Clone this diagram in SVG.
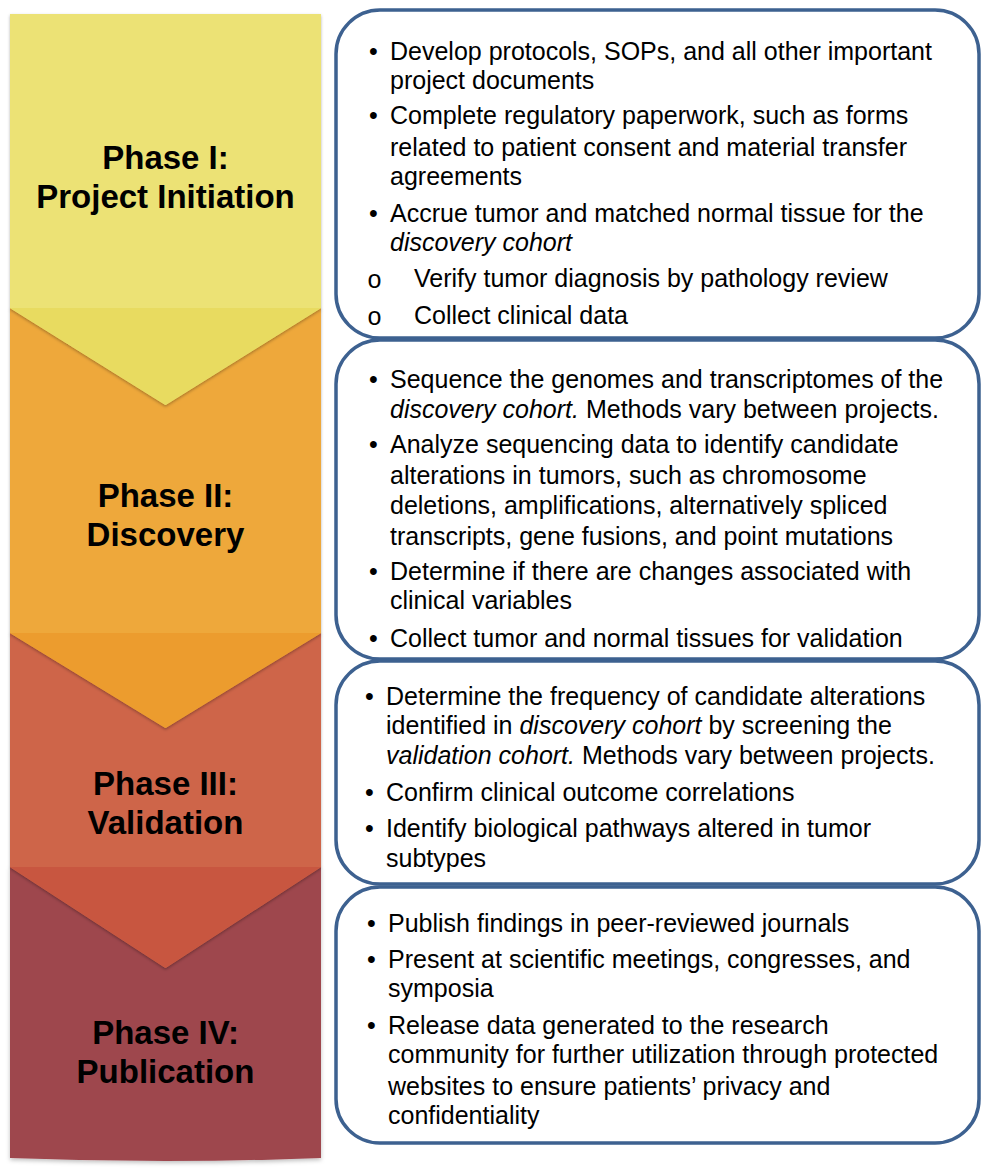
<svg xmlns="http://www.w3.org/2000/svg" width="994" height="1176" viewBox="0 0 994 1176">
  <defs>
    <filter id="chevShadow" x="-10%" y="-10%" width="120%" height="130%">
      <feDropShadow dx="0" dy="1.5" stdDeviation="1.5" flood-color="#000" flood-opacity="0.3"/>
    </filter>
    <filter id="colShadow" x="-5%" y="-5%" width="110%" height="110%">
      <feDropShadow dx="0" dy="2" stdDeviation="2" flood-color="#000" flood-opacity="0.25"/>
    </filter>
  </defs>
  <style>
    .phase { font-family: "Liberation Sans", Arial, sans-serif; font-weight: bold; font-size: 33px; fill: #000; text-anchor: middle; }
    .box { fill: #fff; stroke: #3D6190; stroke-width: 3.5; }
    .txt { font-family: "Liberation Sans", Arial, sans-serif; font-size: 25px; fill: #000; }
    .it { font-style: italic; }
    .sub { font-family: "Liberation Mono", "Courier New", monospace; font-size: 25px; }
  </style>
  <rect width="994" height="1176" fill="#fff"/>

  <!-- Phase column: drawn bottom-up so each chevron overlaps the next phase -->
  <g id="phase4">
    <path d="M10,867 L321,867 L321,1158 Q165.5,1164 10,1158 Z" fill="#9E474E" filter="url(#colShadow)"/>
    <text class="phase" x="165.5" y="1044">Phase IV:</text>
    <text class="phase" x="165.5" y="1083">Publication</text>
  </g>
  <g id="phase3">
    <g filter="url(#chevShadow)">
      <path d="M10,633 L321,633 L321,867 L165.5,968 L10,867 Z" fill="#CE654A"/>
      <path d="M10,867 L321,867 L165.5,968 Z" fill="#C8573F"/>
    </g>
    <text class="phase" x="165.5" y="795">Phase III:</text>
    <text class="phase" x="165.5" y="834">Validation</text>
  </g>
  <g id="phase2">
    <g filter="url(#chevShadow)">
      <path d="M10,308 L321,308 L321,633 L165.5,728 L10,633 Z" fill="#EEA83A"/>
      <path d="M10,633 L321,633 L165.5,728 Z" fill="#EC9C2E"/>
    </g>
    <text class="phase" x="165.5" y="507">Phase II:</text>
    <text class="phase" x="165.5" y="546">Discovery</text>
  </g>
  <g id="phase1">
    <g filter="url(#chevShadow)">
      <path d="M10,14 L321,14 L321,308 L165.5,405 L10,308 Z" fill="#ECE275"/>
      <path d="M10,308 L321,308 L165.5,405 Z" fill="#E8DB61"/>
    </g>
    <text class="phase" x="165.5" y="169">Phase I:</text>
    <text class="phase" x="165.5" y="208">Project Initiation</text>
  </g>

  <!-- Task boxes -->
  <g id="box1">
    <rect class="box" x="336" y="10" width="643" height="328" rx="44"/>
    <g class="txt">
      <text x="369" y="60">•</text>
      <text x="390" y="60">Develop protocols, SOPs, and all other important</text>
      <text x="390" y="89">project documents</text>
      <text x="369" y="124">•</text>
      <text x="390" y="124">Complete regulatory paperwork, such as forms</text>
      <text x="390" y="156">related to patient consent and material transfer</text>
      <text x="390" y="185">agreements</text>
      <text x="369" y="222">•</text>
      <text x="390" y="222">Accrue tumor and matched normal tissue for the</text>
      <text x="390" y="251" class="it">discovery cohort</text>
      <text x="367" y="288" class="sub">o</text>
      <text x="414" y="287">Verify tumor diagnosis by pathology review</text>
      <text x="367" y="325" class="sub">o</text>
      <text x="414" y="324">Collect clinical data</text>
    </g>
  </g>
  <g id="box2">
    <rect class="box" x="336" y="340" width="643" height="319" rx="44"/>
    <g class="txt">
      <text x="369" y="388">•</text>
      <text x="390" y="388">Sequence the genomes and transcriptomes of the</text>
      <text x="390" y="418"><tspan class="it">discovery cohort.</tspan> Methods vary between projects.</text>
      <text x="369" y="453">•</text>
      <text x="390" y="453">Analyze sequencing data to identify candidate</text>
      <text x="390" y="484">alterations in tumors, such as chromosome</text>
      <text x="390" y="514">deletions, amplifications, alternatively spliced</text>
      <text x="390" y="545">transcripts, gene fusions, and point mutations</text>
      <text x="369" y="580">•</text>
      <text x="390" y="580">Determine if there are changes associated with</text>
      <text x="390" y="609">clinical variables</text>
      <text x="369" y="647">•</text>
      <text x="390" y="647">Collect tumor and normal tissues for validation</text>
    </g>
  </g>
  <g id="box3">
    <rect class="box" x="336" y="661" width="643" height="223" rx="44"/>
    <g class="txt">
      <text x="365" y="705">•</text>
      <text x="386" y="705">Determine the frequency of candidate alterations</text>
      <text x="386" y="734">identified in <tspan class="it">discovery cohort</tspan> by screening the</text>
      <text x="386" y="764"><tspan class="it">validation cohort.</tspan> Methods vary between projects.</text>
      <text x="365" y="801">•</text>
      <text x="386" y="801">Confirm clinical outcome correlations</text>
      <text x="365" y="837">•</text>
      <text x="386" y="837">Identify biological pathways altered in tumor</text>
      <text x="386" y="867">subtypes</text>
    </g>
  </g>
  <g id="box4">
    <rect class="box" x="336" y="887" width="643" height="256" rx="44"/>
    <g class="txt">
      <text x="367" y="932">•</text>
      <text x="388" y="932">Publish findings in peer-reviewed journals</text>
      <text x="367" y="968">•</text>
      <text x="388" y="968">Present at scientific meetings, congresses, and</text>
      <text x="388" y="997">symposia</text>
      <text x="367" y="1034">•</text>
      <text x="388" y="1034">Release data generated to the research</text>
      <text x="388" y="1063">community for further utilization through protected</text>
      <text x="388" y="1095">websites to ensure patients’ privacy and</text>
      <text x="388" y="1124">confidentiality</text>
    </g>
  </g>
</svg>
